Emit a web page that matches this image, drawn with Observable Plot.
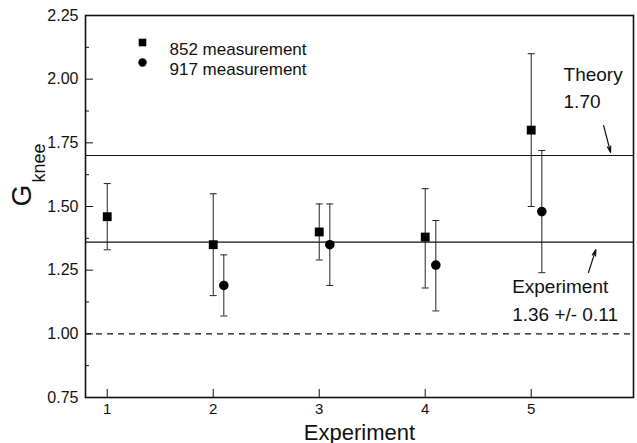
<!DOCTYPE html>
<html>
<head>
<meta charset="utf-8">
<script src="https://cdn.jsdelivr.net/npm/d3@7"></script>
<script src="https://cdn.jsdelivr.net/npm/@observablehq/plot@0.6"></script>
<style>
  html, body { margin: 0; padding: 0; background: #fff; }
  svg { font-family: "Liberation Sans", Arial, Helvetica, sans-serif; }
</style>
</head>
<body>
<div id="chart"></div>
<script>
// 852 measurement
const exp852 = [1, 2, 3, 4, 5];
const g852  = [1.46, 1.35, 1.40, 1.38, 1.80];
const lo852 = [1.33, 1.15, 1.29, 1.18, 1.50];
const hi852 = [1.59, 1.55, 1.51, 1.57, 2.10];
// 917 measurement (plotted slightly offset to the right)
const exp917 = [2.1, 3.1, 4.1, 5.1];
const g917  = [1.19, 1.35, 1.27, 1.48];
const lo917 = [1.07, 1.19, 1.09, 1.24];
const hi917 = [1.31, 1.51, 1.445, 1.72];

const theory = 1.70;
const experiment = 1.36;
const unity = 1.00;

const yTicks = [0.75, 1.00, 1.25, 1.50, 1.75, 2.00, 2.25];
const yMinor = [0.875, 1.125, 1.375, 1.625, 1.875, 2.125];
const xTicks = [1, 2, 3, 4, 5];

const legendLabels = ["852 measurement", "917 measurement"];

const d852 = exp852.map((x, i) => ({x, y: g852[i], lo: lo852[i], hi: hi852[i]}));
const d917 = exp917.map((x, i) => ({x, y: g917[i], lo: lo917[i], hi: hi917[i]}));
const all = d852.concat(d917);

const cap = {
  draw(context, size) {
    const h = Math.sqrt(size / Math.PI);
    context.moveTo(-h, 0);
    context.lineTo(h, 0);
  }
};

const chart = Plot.plot({
  width: 637,
  height: 443,
  marginLeft: 85,
  marginRight: 4,
  marginTop: 15,
  marginBottom: 46,
  style: {fontFamily: '"Liberation Sans", Arial, sans-serif', fontSize: "16px", background: "#fff"},
  x: {domain: [0.795, 5.965]},
  y: {domain: [0.75, 2.25]},
  marks: [
    Plot.ruleY([theory, experiment], {stroke: "#111", strokeWidth: 1.1}),
    Plot.ruleY([unity], {stroke: "#111", strokeWidth: 1.3, strokeDasharray: "6,5"}),
    Plot.ruleX(all, {x: "x", y1: "lo", y2: "hi", stroke: "#222", strokeWidth: 1}),
    Plot.dot(all, {x: "x", y: "lo", symbol: cap, r: 3.5, stroke: "#222", strokeWidth: 1}),
    Plot.dot(all, {x: "x", y: "hi", symbol: cap, r: 3.5, stroke: "#222", strokeWidth: 1}),
    Plot.dot(d852, {x: "x", y: "y", symbol: "square", r: 5, fill: "#000", stroke: "none"}),
    Plot.dot(d917, {x: "x", y: "y", symbol: "circle", r: 4.8, fill: "#000", stroke: "none"}),
    // axes: inward ticks
    Plot.axisY({ticks: yTicks, tickSize: -8, text: null, label: null, stroke: "#111"}),
    Plot.axisY({ticks: yMinor, tickSize: -4, text: null, label: null, stroke: "#111"}),
    Plot.axisY({ticks: yTicks, tickSize: 0, tickPadding: 7, tickFormat: d3.format(".2f"), fontSize: 16, label: null, fill: "#111"}),
    Plot.axisX({ticks: xTicks, tickSize: -8, text: null, label: null, stroke: "#111"}),
    Plot.axisX({ticks: xTicks, tickSize: 0, tickPadding: 6, tickFormat: d3.format("d"), fontSize: 15, label: null, fill: "#111"}),
    Plot.frame({stroke: "#111", strokeWidth: 1.6}),
    // axis titles
    Plot.text(["Experiment"], {frameAnchor: "bottom", dy: 42, fontSize: 22, fill: "#111"}),
    Plot.text(["G"], {frameAnchor: "left", dx: -63, dy: 0, rotate: -90, fontSize: 28, fill: "#111"}),
    Plot.text(["knee"], {frameAnchor: "left", dx: -46, dy: -24, rotate: -90, fontSize: 18, fill: "#111"}),
    // legend
    Plot.dot([legendLabels[0]], {frameAnchor: "top-left", dx: 57, dy: 27, symbol: "square", r: 4.3, fill: "#000"}),
    Plot.dot([legendLabels[1]], {frameAnchor: "top-left", dx: 57, dy: 47, symbol: "circle", r: 4.2, fill: "#000"}),
    Plot.text([legendLabels[0]], {frameAnchor: "top-left", dx: 84, dy: 27, textAnchor: "start", fontSize: 17, fill: "#111"}),
    Plot.text([legendLabels[1]], {frameAnchor: "top-left", dx: 84, dy: 47, textAnchor: "start", fontSize: 17, fill: "#111"}),
    // annotations
    Plot.text(["Theory", "1.70"], {x: 5.305, y: [2.018, 1.912], textAnchor: "start", fontSize: 19, fill: "#111"}),
    Plot.arrow([0], {x1: 5.683, y1: 1.818, x2: 5.749, y2: 1.712, stroke: "#111", strokeWidth: 1.2, headLength: 8, headAngle: 30}),
    Plot.text(["Experiment", "1.36 +/- 0.11"], {x: 4.82, y: [1.186, 1.076], textAnchor: "start", fontSize: 19, fill: "#111"}),
    Plot.arrow([0], {x1: 5.54, y1: 1.241, x2: 5.61, y2: 1.331, stroke: "#111", strokeWidth: 1.2, headLength: 8, headAngle: 30})
  ]
});
document.getElementById("chart").appendChild(chart);
</script>
</body>
</html>
